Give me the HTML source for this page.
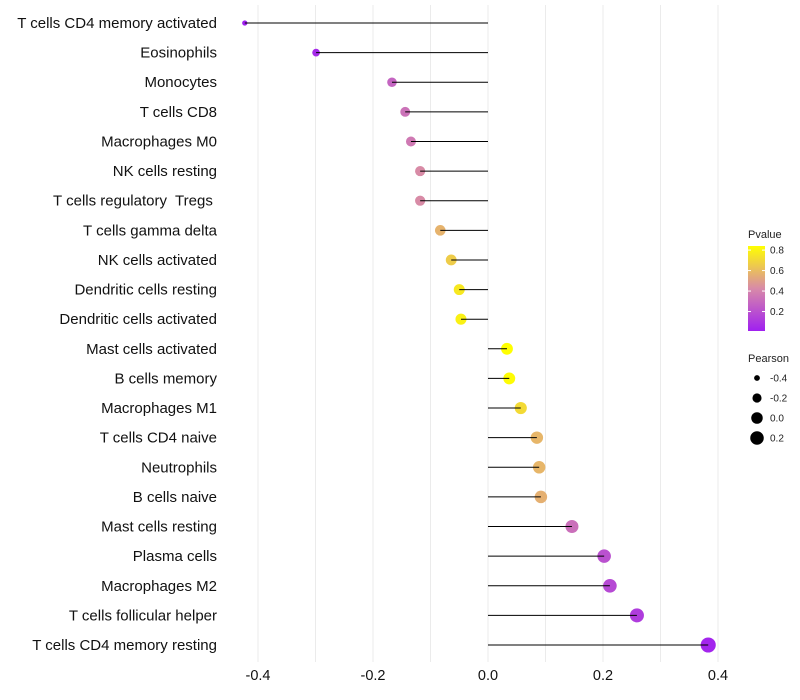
<!DOCTYPE html>
<html><head><meta charset="utf-8"><style>
body{margin:0;background:#fff;font-family:"Liberation Sans",Arial,sans-serif}
svg{display:block}
text{white-space:pre}
</style></head><body>
<svg id="chart" width="800" height="700" xmlns="http://www.w3.org/2000/svg">
<defs><linearGradient id="pg" x1="0" y1="1" x2="0" y2="0">
<stop offset="0" stop-color="#a020f0"/><stop offset="0.5" stop-color="#d88aa8"/><stop offset="1" stop-color="#ffff00"/>
</linearGradient></defs>
<g id="grid"></g>
<g id="marks"></g>
<g id="ylabels"></g>
<g id="xlabels"></g>
<g font-size="10" fill="#222">
<text x="748" y="238" font-size="11">Pvalue</text>
<rect x="748" y="246" width="17" height="85" fill="url(#pg)"/>
<g id="pticks"></g>
</g>
<g font-size="10" fill="#222">
<text x="748" y="362" font-size="11">Pearson</text>
<g id="sizeleg"></g>
</g>
</svg>
<script>
const categories=["T cells CD4 memory activated","Eosinophils","Monocytes","T cells CD8","Macrophages M0","NK cells resting","T cells regulatory  Tregs ","T cells gamma delta","NK cells activated","Dendritic cells resting","Dendritic cells activated","Mast cells activated","B cells memory","Macrophages M1","T cells CD4 naive","Neutrophils","B cells naive","Mast cells resting","Plasma cells","Macrophages M2","T cells follicular helper","T cells CD4 memory resting"];
const pearson=[-0.423,-0.299,-0.167,-0.144,-0.134,-0.118,-0.118,-0.083,-0.064,-0.050,-0.047,0.033,0.037,0.057,0.085,0.089,0.092,0.146,0.202,0.212,0.259,0.383];
const pvalue=[0.01,0.05,0.28,0.33,0.36,0.43,0.43,0.57,0.66,0.76,0.79,0.84,0.83,0.71,0.58,0.58,0.56,0.32,0.2,0.17,0.12,0.03];
const xTicks=[-0.4,-0.2,0.0,0.2,0.4];
const pTicks=[0.2,0.4,0.6,0.8];
const sizeLegend=[-0.4,-0.2,0.0,0.2];
const NS="http://www.w3.org/2000/svg";
const x=v=>488+v*575;
const y=i=>23+i*(622/21);
const pMin=0.01,pMax=0.84;
const pY=p=>331-(p-pMin)/(pMax-pMin)*85;
const sMin=-0.423,sMax=0.383;
const rad=v=>Math.sqrt(7+50*Math.max(0,(v-sMin)/(sMax-sMin)));
function lerp(a,b,t){return a.map((c,i)=>Math.round(c+(b[i]-c)*t));}
function color(p){const t=Math.min(1,Math.max(0,(p-pMin)/(pMax-pMin)));
 const A=[160,32,240],M=[216,138,168],B=[255,255,0];
 const c=t<0.5?lerp(A,M,t/0.5):lerp(M,B,(t-0.5)/0.5);return `rgb(${c})`;}
function mk(tag,attrs,parent){const e=document.createElementNS(NS,tag);for(const k in attrs)e.setAttribute(k,attrs[k]);parent.appendChild(e);return e;}
const grid=document.getElementById('grid');
for(let v=-0.4;v<=0.41;v+=0.1){const l=mk('line',{x1:x(v),x2:x(v),y1:5,y2:662,stroke:'#ebebeb','stroke-width':1},grid);

}
const marks=document.getElementById('marks'),yl=document.getElementById('ylabels');
categories.forEach((c,i)=>{
 const cy=y(i);
 const ci=mk('circle',{cx:x(pearson[i]),cy:cy,r:rad(pearson[i]),fill:color(pvalue[i])},marks);
 
 
 const s=mk('line',{x1:x(0),x2:x(pearson[i]),y1:cy,y2:cy,stroke:'#000','stroke-width':1},marks);
 
 
 const t=mk('text',{x:217,y:cy+5,'text-anchor':'end','font-size':15,fill:'#111'},yl);
 t.textContent=c;
 
 
});
const xl=document.getElementById('xlabels');
xTicks.forEach(v=>{const t=mk('text',{x:x(v),y:680,'text-anchor':'middle','font-size':14.5,fill:'#111'},xl);
 t.textContent=v.toFixed(1);
 
 });
const pt=document.getElementById('pticks');
pTicks.forEach(p=>{mk('line',{x1:748,x2:751,y1:pY(p),y2:pY(p),stroke:'#fff'},pt);mk('line',{x1:762,x2:765,y1:pY(p),y2:pY(p),stroke:'#fff'},pt);
 const t=mk('text',{x:770,y:pY(p)+3.5},pt);t.textContent=p.toFixed(1);
 
 });
const sl=document.getElementById('sizeleg');
sizeLegend.forEach((v,i)=>{const cy=378+i*20;
 const c=mk('circle',{cx:757,cy:cy,r:rad(v),fill:'#000'},sl);
 
 
 const t=mk('text',{x:770,y:cy+3.5},sl);t.textContent=v.toFixed(1);
 
 });
</script>
</body></html>
